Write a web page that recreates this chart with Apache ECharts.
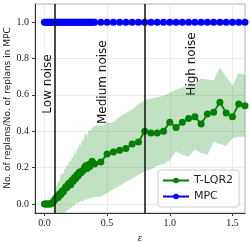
<!DOCTYPE html>
<html><head><meta charset="utf-8">
<script src="https://cdn.jsdelivr.net/npm/echarts@6/dist/echarts.min.js"></script>
<style>html,body{margin:0;padding:0;background:#fff}#c{width:250px;height:243px}</style>
</head><body><div id="c"></div>
<script>
const epsilon = [0,0.01,0.02,0.03,0.04,0.05,0.06,0.07,0.08,0.09,0.10,0.11,0.12,0.13,0.14,0.15,0.16,0.17,0.18,0.19,0.20,0.21,0.22,0.23,0.24,0.25,0.26,0.27,0.28,0.29,0.30,0.31,0.32,0.33,0.34,0.35,0.36,0.37,0.38,0.39,0.40,0.45,0.50,0.55,0.60,0.65,0.70,0.75,0.80,0.85,0.90,0.95,1.00,1.05,1.10,1.15,1.20,1.25,1.30,1.35,1.40,1.45,1.50,1.55,1.60];
const tlqr2 = [0,0,0,0,0,0,0.005,0.01,0.02,0.03,0.04,0.035,0.055,0.05,0.07,0.065,0.08,0.095,0.09,0.11,0.115,0.105,0.13,0.125,0.145,0.14,0.16,0.155,0.175,0.17,0.18,0.185,0.2,0.21,0.195,0.215,0.205,0.22,0.235,0.225,0.22,0.23,0.275,0.285,0.295,0.305,0.33,0.34,0.40,0.39,0.39,0.40,0.45,0.42,0.45,0.47,0.48,0.44,0.495,0.505,0.56,0.50,0.48,0.55,0.54];
const tlqr2Upper = [0,0,0,0,0,0,0.01,0.03,0.06,0.09,0.10,0.13,0.12,0.16,0.17,0.16,0.20,0.19,0.22,0.21,0.24,0.23,0.26,0.25,0.29,0.27,0.31,0.30,0.33,0.32,0.36,0.34,0.38,0.39,0.37,0.40,0.41,0.40,0.42,0.42,0.43,0.43,0.445,0.45,0.48,0.50,0.52,0.55,0.57,0.58,0.585,0.595,0.61,0.63,0.64,0.65,0.66,0.69,0.685,0.68,0.75,0.70,0.65,0.72,0.71];
const tlqr2Lower = [0,0,0,0,0,0,-0.01,-0.03,-0.06,-0.08,-0.09,-0.09,-0.08,-0.07,-0.06,-0.05,-0.05,-0.04,-0.04,-0.03,-0.03,-0.02,-0.02,-0.01,-0.01,0.0,0.01,0.0,0.01,0.02,0.01,0.02,0.02,0.03,0.02,0.03,0.03,0.03,0.04,0.03,0.04,0.04,0.06,0.08,0.10,0.12,0.14,0.16,0.18,0.19,0.21,0.22,0.24,0.29,0.27,0.26,0.30,0.28,0.27,0.34,0.33,0.32,0.36,0.37,0.37];
const mpc = [1,1,1,1,1,1,1,1,1,1,1,1,1,1,1,1,1,1,1,1,1,1,1,1,1,1,1,1,1,1,1,1,1,1,1,1,1,1,1,1,1,1,1,1,1,1,1,1,1,1,1,1,1,1,1,1,1,1,1,1,1,1,1,1,1];
const yTicks = [0, 0.2, 0.4, 0.6, 0.8, 1.0];
const xTicks = [0, 0.5, 1.0, 1.5];
const yTitle = 'No. of replans/No. of replans in MPC';
const noiseBoundaries = [0.08, 0.8];
const noiseLabels = [
  {text: 'Low noise', x: 0.03, y: 0.66},
  {text: 'Medium noise', x: 0.47, y: 0.67},
  {text: 'High noise', x: 1.18, y: 0.77}
];

const pair = (ys) => epsilon.map((x, i) => [x, ys[i]]);
const chart = echarts.init(document.getElementById('c'));
const serif = 'Liberation Serif';
const sans = 'DejaVu Sans';
chart.setOption({
  animation: false,
  grid: {left: 35, right: 5, top: 4, bottom: 30, outerBoundsMode: 'none', containLabel: false,
         show: true, borderColor: '#b0b0b0', borderWidth: 1},
  legend: {
    data: ['T-LQR2', 'MPC'], orient: 'vertical', left: 158, top: 170,
    itemWidth: 26, itemHeight: 7, itemGap: 5, padding: [5, 6, 5, 4],
    borderColor: '#cccccc', borderWidth: 1, borderRadius: 3, backgroundColor: '#fff',
    textStyle: {fontFamily: sans, fontSize: 11, color: '#222'}
  },
  xAxis: {
    type: 'value', min: -0.075, max: 1.6,
    name: 'ε', nameLocation: 'middle', nameGap: 20,
    nameTextStyle: {fontFamily: serif, fontStyle: 'italic', fontSize: 11, color: '#222'},
    axisLine: {show: true, onZero: false, lineStyle: {color: '#333', width: 1}},
    axisTick: {show: true, length: 3, customValues: xTicks, lineStyle: {color: '#333'}},
    axisLabel: {customValues: xTicks, margin: 5, fontFamily: serif, fontSize: 10, color: '#222', formatter: v => v.toFixed(1)},
    splitLine: {show: true, lineStyle: {color: '#ebebeb', width: 1}}
  },
  yAxis: {
    type: 'value', min: -0.05, max: 1.1,
    axisLine: {show: true, onZero: false, lineStyle: {color: '#333', width: 1}},
    axisTick: {show: true, length: 3, customValues: yTicks, lineStyle: {color: '#333'}},
    axisLabel: {customValues: yTicks, margin: 6, fontFamily: serif, fontSize: 10, color: '#222', formatter: v => v.toFixed(1)},
    splitLine: {show: true, lineStyle: {color: '#ebebeb', width: 1}}
  },
  series: [
    {name: 'band', type: 'custom', data: [0], clip: true, silent: true, z: 1,
     renderItem: (params, api) => {
       const pts = [];
       for (let i = 0; i < epsilon.length; i++) pts.push(api.coord([epsilon[i], tlqr2Upper[i]]));
       for (let i = epsilon.length - 1; i >= 0; i--) pts.push(api.coord([epsilon[i], tlqr2Lower[i]]));
       return {type: 'polygon', shape: {points: pts}, style: {fill: 'rgba(0,128,0,0.24)', stroke: 'none'}};
     }},
    {name: 'T-LQR2', type: 'line', data: pair(tlqr2), color: '#008000', symbol: 'circle', symbolSize: 7,
     lineStyle: {width: 1.8, color: '#008000'}, itemStyle: {color: '#008000'}, z: 3},
    {name: 'MPC', type: 'line', data: pair(mpc), color: '#0000ff', symbol: 'circle', symbolSize: 7,
     lineStyle: {width: 1.8, color: '#0000ff'}, itemStyle: {color: '#0000ff'}, z: 4},
    {name: 'vlines', type: 'line', data: [], z: 10,
     markLine: {silent: true, symbol: 'none', label: {show: false},
       lineStyle: {color: '#111', width: 1.5, type: 'solid'},
       data: noiseBoundaries.map(x => ({xAxis: x}))}}
  ]
});
const graphics = noiseLabels.map(l => {
  const p = chart.convertToPixel({gridIndex: 0}, [l.x, l.y]);
  return {type: 'text', x: p[0], y: p[1], rotation: Math.PI / 2, z: 20,
    style: {text: l.text, font: '12px "DejaVu Sans"', fill: '#111', align: 'center', verticalAlign: 'middle'}};
});
graphics.push({type: 'text', x: 8, y: 108, rotation: Math.PI / 2, z: 20,
  style: {text: yTitle, font: '9px "DejaVu Sans"', fill: '#222', align: 'center', verticalAlign: 'middle'}});
chart.setOption({graphic: graphics});
</script></body></html>
